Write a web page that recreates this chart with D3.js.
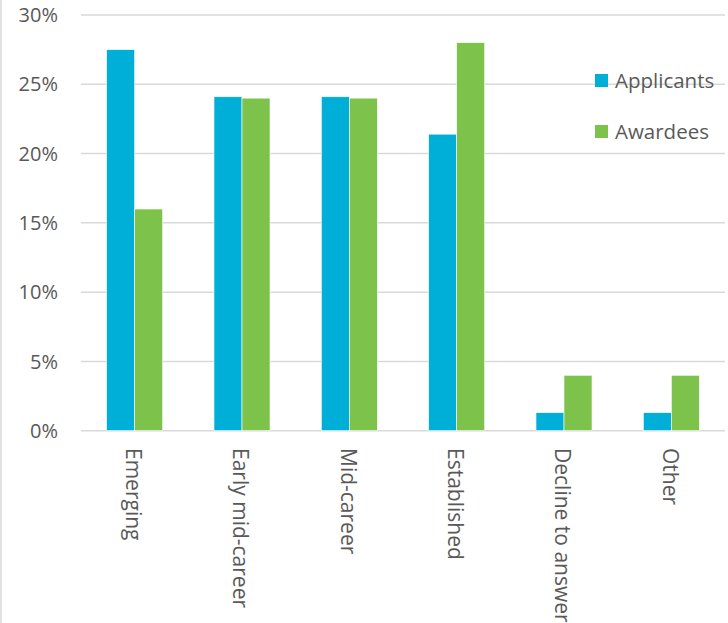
<!DOCTYPE html>
<html>
<head>
<meta charset="utf-8">
<script src="https://cdn.jsdelivr.net/npm/d3@7"></script>
<style>
  body { margin: 0; background: #fff; }
  text { font-family: "Open Sans", sans-serif; fill: #595959; }
</style>
</head>
<body>
<div id="chart"></div>
<script>
const categories = ["Emerging", "Early mid-career", "Mid-career", "Established", "Decline to answer", "Other"];
const seriesNames = ["Applicants", "Awardees"];
const applicants = [27.5, 24.1, 24.1, 21.4, 1.3, 1.3];
const awardees = [16.0, 24.0, 24.0, 28.0, 4.0, 4.0];
const yTicks = [0, 5, 10, 15, 20, 25, 30];
const colors = ["#00afd7", "#7dc24b"];

function drawChart(containerId) {
  const W = 728, H = 623;
  const plot = { left: 81, right: 725, top: 15, bottom: 430.7 };

  d3.select(`#${containerId}`).html("");
  const svg = d3.select(`#${containerId}`)
      .append("svg")
          .attr("width", W)
          .attr("height", H);

  // chart border (only left edge visible)
  svg.append("line")
      .attr("x1", 1).attr("x2", 1)
      .attr("y1", 0).attr("y2", H)
      .attr("stroke", "#d9d9d9")
      .attr("stroke-width", 1.5);

  const x = d3.scaleBand()
      .domain(categories)
      .range([plot.left, plot.right])
      .paddingInner(0.478)
      .paddingOuter(0.239);

  const x1 = d3.scaleBand()
      .domain(seriesNames)
      .range([0, x.bandwidth()]);

  const y = d3.scaleLinear()
      .domain([0, 30])
      .range([plot.bottom, plot.top]);

  // gridlines
  svg.append("g")
      .selectAll("line")
      .data(yTicks)
      .join("line")
          .attr("x1", plot.left)
          .attr("x2", plot.right)
          .attr("y1", d => y(d))
          .attr("y2", d => y(d))
          .attr("stroke", "#d9d9d9")
          .attr("stroke-width", 1.5);

  // y labels
  svg.append("g")
      .selectAll("text")
      .data(yTicks)
      .join("text")
          .attr("x", 58)
          .attr("y", d => y(d))
          .attr("dy", "0.36em")
          .attr("text-anchor", "end")
          .style("font-size", "20px")
          .text(d => d + "%");

  // bars
  const rows = categories.map((c, i) => ({ cat: c, vals: [applicants[i], awardees[i]] }));
  svg.append("g")
      .selectAll("g")
      .data(rows)
      .join("g")
          .attr("transform", d => `translate(${x(d.cat)},0)`)
      .selectAll("rect")
      .data(d => d.vals.map((v, j) => ({ s: seriesNames[j], v, j })))
      .join("rect")
          .attr("x", d => x1(d.s))
          .attr("y", d => y(d.v))
          .attr("width", x1.bandwidth())
          .attr("height", d => y(0) - y(d.v))
          .attr("fill", d => colors[d.j])
          .attr("stroke", "#ffffff")
          .attr("stroke-width", 0.6);

  // x labels, rotated
  svg.append("g")
      .selectAll("text")
      .data(categories)
      .join("text")
          .attr("transform", d => `translate(${x(d) + x.bandwidth() / 2 - 1},448) rotate(90)`)
          .attr("dy", "0.36em")
          .attr("text-anchor", "start")
          .style("font-size", "21px")
          .text(d => d);

  // legend
  const legend = svg.append("g")
      .selectAll("g")
      .data(seriesNames)
      .join("g")
          .attr("transform", (d, i) => `translate(595,${74 + i * 51})`);
  legend.append("rect")
      .attr("width", 13)
      .attr("height", 13)
      .attr("fill", (d, i) => colors[i]);
  legend.append("text")
      .attr("x", 20)
      .attr("y", 6.5)
      .attr("dy", "0.36em")
      .style("font-size", "20.5px")
      .text(d => d);
}

document.addEventListener("DOMContentLoaded", function () {
  drawChart("chart");
});
</script>
</body>
</html>
